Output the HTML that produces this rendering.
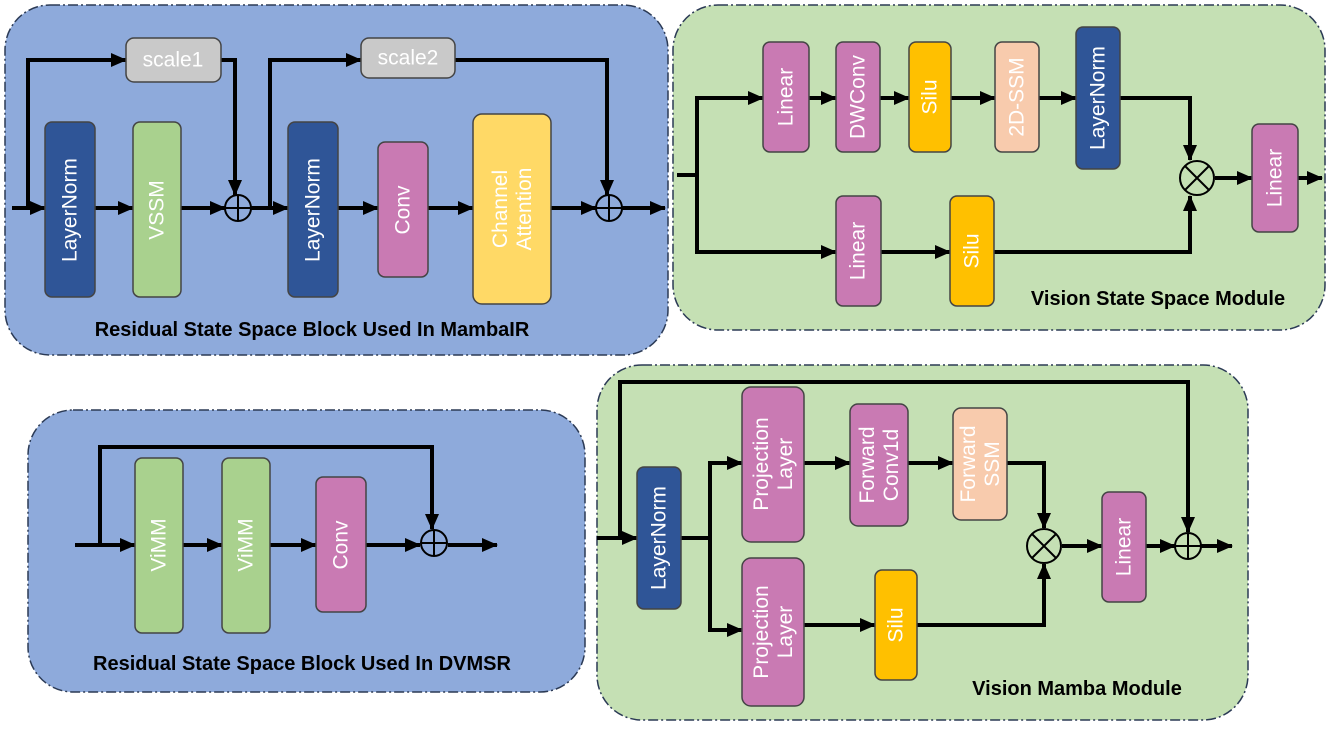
<!DOCTYPE html>
<html><head><style>body{margin:0;background:#fff}svg{display:block}text{font-family:"Liberation Sans","DejaVu Sans",sans-serif}</style></head>
<body>
<svg width="1332" height="749" viewBox="0 0 1332 749" xmlns="http://www.w3.org/2000/svg">
<defs>
<marker id="b" markerWidth="16" markerHeight="14" refX="15" refY="7" orient="auto" markerUnits="userSpaceOnUse"><path d="M0,0 L16,7 L0,14 z" fill="#000"/></marker></defs>
<g stroke="#2b3a55" stroke-width="1.5" stroke-dasharray="10,3,2,3">
<rect x="5" y="5" width="663" height="350" rx="45" fill="#8eaadb"/>
<rect x="673" y="5" width="652" height="325" rx="45" fill="#c5e0b4"/>
<rect x="28" y="410" width="557" height="282" rx="45" fill="#8eaadb"/>
<rect x="597" y="365" width="651" height="355" rx="45" fill="#c5e0b4"/>
</g>
<g fill="none" stroke="#000" stroke-width="4" marker-end="url(#b)">
<path d="M12,208 H45"/><path d="M28,208 V60 H126"/><path d="M221,60 H235 V195"/>
<path d="M95,208 H133"/><path d="M181,208 H225"/><path d="M251,208 H288"/>
<path d="M270,208 V60 H361"/><path d="M455,60 H607 V195"/>
<path d="M338,208 H378"/><path d="M428,208 H473"/><path d="M551,208 H596"/><path d="M622,208 H665"/>
<path d="M677,175 H697" marker-end="none"/><path d="M697,252 V98 H763"/><path d="M809,98 H836"/><path d="M880,98 H909"/><path d="M951,98 H995"/><path d="M1039,98 H1076"/>
<path d="M1120,98 H1190 V160"/><path d="M697,200 V252 H836"/><path d="M881,252 H950"/><path d="M994,252 H1190 V196"/>
<path d="M1215,178 H1252"/><path d="M1298,178 H1322"/>
<path d="M75,545 H135"/><path d="M100,545 V447 H432 V529"/><path d="M183,545 H222"/><path d="M270,545 H316"/><path d="M366,545 H420"/><path d="M448,545 H497"/>
<path d="M597,538 H637"/><path d="M620,538 V382 H1188 V532"/><path d="M681,538 H710 V463 H742"/><path d="M710,538 V630 H742"/>
<path d="M804,463 H850"/><path d="M908,463 H953"/><path d="M1007,463 H1044 V528"/>
<path d="M804,625 H875"/><path d="M917,625 H1044 V564"/>
<path d="M1062,546 H1102"/><path d="M1146,546 H1175"/><path d="M1201,546 H1232"/>
</g>
<g stroke="#444" stroke-width="1.5">
<rect x="45" y="122" width="50" height="175" rx="7" fill="#2f5597"/>
<rect x="133" y="122" width="48" height="175" rx="7" fill="#a9d18e"/>
<rect x="126" y="38" width="95" height="44" rx="8" fill="#c9c9c9"/>
<rect x="361" y="38" width="94" height="40" rx="8" fill="#c9c9c9"/>
<rect x="288" y="122" width="50" height="175" rx="7" fill="#2f5597"/>
<rect x="378" y="142" width="50" height="135" rx="7" fill="#c97ab3"/>
<rect x="473" y="114" width="78" height="190" rx="9" fill="#ffd966"/>
<rect x="763" y="42" width="46" height="110" rx="7" fill="#c97ab3"/>
<rect x="836" y="42" width="44" height="110" rx="7" fill="#c97ab3"/>
<rect x="909" y="42" width="42" height="110" rx="7" fill="#ffc000"/>
<rect x="995" y="42" width="44" height="110" rx="7" fill="#f8cbad"/>
<rect x="1076" y="27" width="44" height="142" rx="7" fill="#2f5597"/>
<rect x="1252" y="124" width="46" height="108" rx="7" fill="#c97ab3"/>
<rect x="836" y="196" width="45" height="110" rx="7" fill="#c97ab3"/>
<rect x="950" y="196" width="44" height="110" rx="7" fill="#ffc000"/>
<rect x="135" y="458" width="48" height="175" rx="7" fill="#a9d18e"/>
<rect x="222" y="458" width="48" height="175" rx="7" fill="#a9d18e"/>
<rect x="316" y="477" width="50" height="135" rx="7" fill="#c97ab3"/>
<rect x="637" y="467" width="44" height="142" rx="7" fill="#2f5597"/>
<rect x="742" y="387" width="62" height="155" rx="9" fill="#c97ab3"/>
<rect x="850" y="404" width="58" height="122" rx="8" fill="#c97ab3"/>
<rect x="953" y="408" width="54" height="112" rx="8" fill="#f8cbad"/>
<rect x="742" y="558" width="62" height="148" rx="9" fill="#c97ab3"/>
<rect x="875" y="570" width="42" height="110" rx="7" fill="#ffc000"/>
<rect x="1102" y="492" width="44" height="110" rx="7" fill="#c97ab3"/>
</g>
<g fill="none" stroke="#000" stroke-width="2">
<circle cx="238" cy="208" r="13"/><path d="M225,208H251M238,195V221"/>
<circle cx="609" cy="208" r="13"/><path d="M596,208H622M609,195V221"/>
<circle cx="434" cy="543" r="13"/><path d="M421,543H447M434,530V556"/>
<circle cx="1188" cy="546" r="13"/><path d="M1175,546H1201M1188,533V559"/>
<circle cx="1197" cy="178" r="17"/><path d="M1185,166L1209,190M1209,166L1185,190"/>
<circle cx="1044" cy="546" r="17"/><path d="M1032,534L1056,558M1056,534L1032,558"/>
</g>
<g fill="#fff" font-size="21" text-anchor="middle" dominant-baseline="central">
<text x="173" y="60">scale1</text><text x="408" y="58">scale2</text>
<text transform="translate(70,210) rotate(-90)">LayerNorm</text>
<text transform="translate(157,210) rotate(-90)">VSSM</text>
<text transform="translate(313,210) rotate(-90)">LayerNorm</text>
<text transform="translate(403,210) rotate(-90)">Conv</text>
<text transform="translate(512,209) rotate(-90)"><tspan x="0" dy="-12">Channel</tspan><tspan x="0" dy="24">Attention</tspan></text>
<text transform="translate(786,97) rotate(-90)">Linear</text>
<text transform="translate(858,97) rotate(-90)">DWConv</text>
<text transform="translate(930,97) rotate(-90)">Silu</text>
<text transform="translate(1017,97) rotate(-90)">2D-SSM</text>
<text transform="translate(1098,98) rotate(-90)">LayerNorm</text>
<text transform="translate(1275,178) rotate(-90)">Linear</text>
<text transform="translate(858,251) rotate(-90)">Linear</text>
<text transform="translate(972,251) rotate(-90)">Silu</text>
<text transform="translate(159,545) rotate(-90)">ViMM</text>
<text transform="translate(246,545) rotate(-90)">ViMM</text>
<text transform="translate(341,545) rotate(-90)">Conv</text>
<text transform="translate(659,538) rotate(-90)">LayerNorm</text>
<text transform="translate(773,464) rotate(-90)"><tspan x="0" dy="-12">Projection</tspan><tspan x="0" dy="24">Layer</tspan></text>
<text transform="translate(879,465) rotate(-90)"><tspan x="0" dy="-12">Forward</tspan><tspan x="0" dy="24">Conv1d</tspan></text>
<text transform="translate(980,464) rotate(-90)"><tspan x="0" dy="-12">Forward</tspan><tspan x="0" dy="24">SSM</tspan></text>
<text transform="translate(773,632) rotate(-90)"><tspan x="0" dy="-12">Projection</tspan><tspan x="0" dy="24">Layer</tspan></text>
<text transform="translate(896,625) rotate(-90)">Silu</text>
<text transform="translate(1124,547) rotate(-90)">Linear</text>
</g>
<g fill="#000" font-size="20" font-weight="bold" text-anchor="middle">
<text x="312" y="336">Residual State Space Block Used In MambaIR</text>
<text x="1158" y="305">Vision State Space Module</text>
<text x="302" y="670">Residual State Space Block Used In DVMSR</text>
<text x="1077" y="695">Vision Mamba Module</text>
</g>
</svg>
</body></html>
